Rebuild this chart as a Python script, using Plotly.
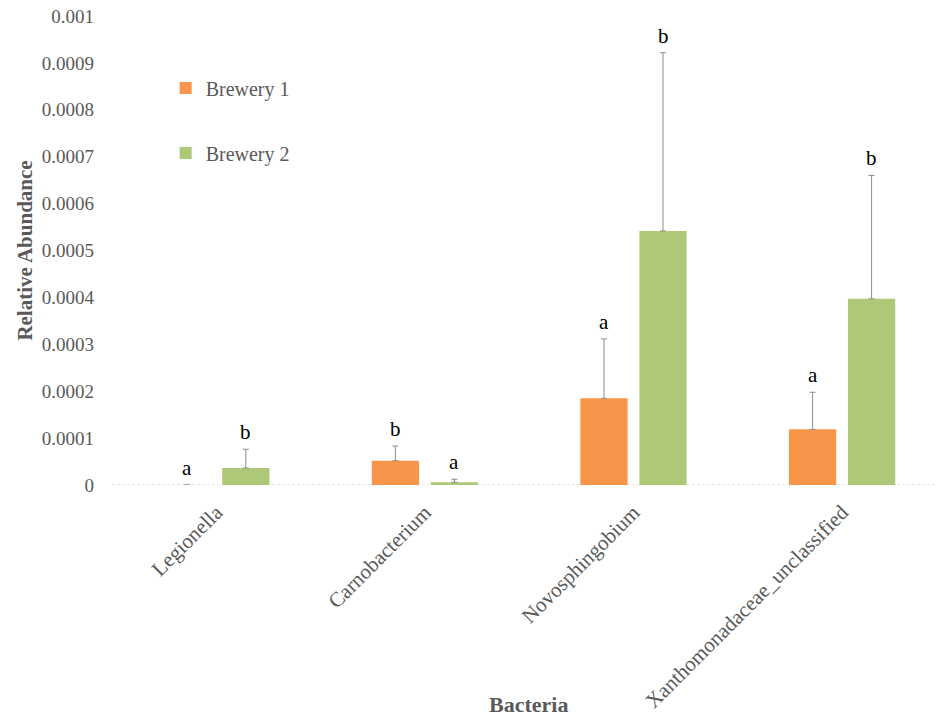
import plotly.graph_objects as go

categories = ["Legionella", "Carnobacterium", "Novosphingobium", "Xanthomonadaceae_unclassified"]
brewery1 = [0.0, 0.0000518, 0.0001849, 0.0001187]
brewery1_err = [None, 0.0000314, 0.0001264, 0.0000790]
brewery2 = [0.0000362, 0.0000058, 0.0005416, 0.0003970]
brewery2_err = [0.0000400, 0.0000064, 0.0003800, 0.0002630]
letters1 = ["a", "b", "a", "a"]
letters2 = ["b", "a", "b", "b"]
ytick_vals = [0, 0.0001, 0.0002, 0.0003, 0.0004, 0.0005, 0.0006, 0.0007, 0.0008, 0.0009, 0.001]
ytick_text = ["0", "0.0001", "0.0002", "0.0003", "0.0004", "0.0005", "0.0006", "0.0007", "0.0008", "0.0009", "0.001"]

ORANGE = "#F7964A"
GREEN = "#ADC978"
GRAY = "#595959"
FONT = "Liberation Serif"
BARGAP = 0.434


def minus_of(errs):
    return [None if e is None else 0 for e in errs]


fig = go.Figure()
fig.add_trace(go.Bar(
    x=categories, y=brewery1, name="Brewery 1", marker=dict(color=ORANGE, line=dict(width=0)),
    error_y=dict(type="data", array=brewery1_err, arrayminus=minus_of(brewery1_err), symmetric=False,
                 color="#8c8c8c", thickness=1, width=3),
    legend="legend", showlegend=True,
))
fig.add_trace(go.Bar(
    x=categories, y=brewery2, name="Brewery 2", marker=dict(color=GREEN, line=dict(width=0)),
    error_y=dict(type="data", array=brewery2_err, arrayminus=minus_of(brewery2_err), symmetric=False,
                 color="#8c8c8c", thickness=1, width=3),
    legend="legend2", showlegend=True,
))

off = (1 - BARGAP) / 4
annotations = []
for i in range(len(categories)):
    for vals, errs, lets, sgn in ((brewery1, brewery1_err, letters1, -1), (brewery2, brewery2_err, letters2, 1)):
        annotations.append(dict(
            x=i + sgn * off, y=vals[i] + (errs[i] or 0), xref="x", yref="y", text=lets[i],
            showarrow=False, yanchor="bottom", yshift=3,
            font=dict(family=FONT, size=21, color="#000000"),
        ))
annotations.append(dict(
    x=0.505, y=-0.469, xref="paper", yref="paper", text="<b>Bacteria</b>", showarrow=False,
    yanchor="middle", xanchor="center", font=dict(family=FONT, size=22, color=GRAY),
))

fig.update_layout(
    width=937, height=716,
    margin=dict(l=112, r=0, t=16, b=231),
    paper_bgcolor="white", plot_bgcolor="white",
    barmode="group", bargap=BARGAP, bargroupgap=0.2,
    showlegend=True,
    font=dict(family=FONT, size=19, color=GRAY),
    annotations=annotations,
    legend=dict(x=0.065, y=0.8465, xanchor="left", yanchor="middle", bgcolor="rgba(0,0,0,0)",
                font=dict(family=FONT, size=20, color=GRAY)),
    legend2=dict(x=0.065, y=0.708, xanchor="left", yanchor="middle", bgcolor="rgba(0,0,0,0)",
                 font=dict(family=FONT, size=20, color=GRAY)),
    shapes=[dict(type="line", xref="paper", yref="y", x0=0, x1=1, y0=0, y1=0,
                 line=dict(color="#d0d0d0", width=1, dash="3px,2px"), layer="below")],
)
fig.update_xaxes(
    type="category", range=[-0.5, 3.455], showgrid=False, showline=False, zeroline=False,
    tickangle=-45, ticks="", ticklabelstandoff=10,
    tickfont=dict(family=FONT, size=21, color=GRAY),
)
fig.update_yaxes(
    range=[0, 0.001], tickvals=ytick_vals, ticktext=ytick_text, showgrid=False, zeroline=False,
    showline=False, ticks="", ticklabelstandoff=17,
    tickfont=dict(family=FONT, size=19, color=GRAY),
    title=dict(text="<b>Relative Abundance</b>", font=dict(family=FONT, size=21, color=GRAY), standoff=3),
)

fig.write_html("out.html")
